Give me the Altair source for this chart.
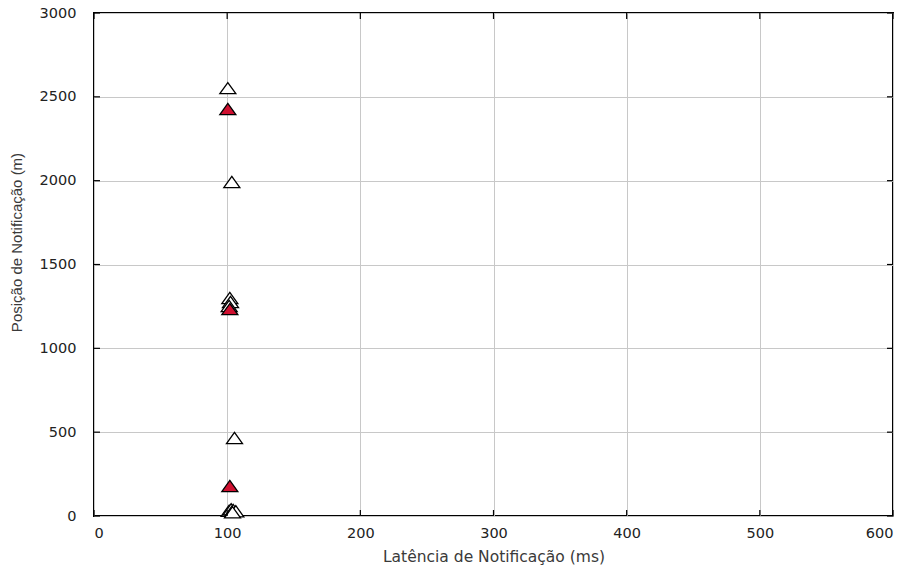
import altair as alt
import pandas as pd

# Notification latency (ms) vs. notification position (m)
open_latency = [100.5, 103.5, 102.0, 102.5, 101.5, 105.5, 101.5, 103.0, 104.5, 106.5, 104.0]
open_position = [2552, 1992, 1300, 1276, 1252, 465, 32, 40, 36, 28, 22]

red_latency = [100.5, 102.0, 102.0]
red_position = [2427, 1234, 179]

x_ticks = [0, 100, 200, 300, 400, 500, 600]
y_ticks = [0, 500, 1000, 1500, 2000, 2500, 3000]

open_df = pd.DataFrame({"lat": open_latency, "pos": open_position})
red_df = pd.DataFrame({"lat": red_latency, "pos": red_position})
xt_df = pd.DataFrame({"lat": x_ticks})
yt_df = pd.DataFrame({"pos": y_ticks})

W, H = 799, 503
TICK = 6
LABEL_FONT = "DejaVu Sans"
TITLE_FONT = "Liberation Sans"

# flattened open/filled triangle marker
TRI = "M0,-0.7L1,0.7L-1,0.7Z"

x_scale = alt.Scale(domain=[0, 600], nice=False)
y_scale = alt.Scale(domain=[0, 3000], nice=False)

x_enc = alt.X(
    "lat:Q",
    scale=x_scale,
    axis=alt.Axis(
        values=x_ticks,
        format="d",
        title="Latência de Notificação (ms)",
        titleFontSize=15.5,
        titleFont=LABEL_FONT,
        titleFontWeight="normal",
        titleColor="#3a3a3a",
        titlePadding=10,
        labelFontSize=14.5,
        labelFont=LABEL_FONT,
        labelColor="#222222",
        labelPadding=10,
        ticks=False,
        domain=False,
        grid=True,
        gridColor="#c8c8c8",
        gridWidth=1,
    ),
)
y_enc = alt.Y(
    "pos:Q",
    scale=y_scale,
    axis=alt.Axis(
        values=y_ticks,
        format="d",
        title="Posição de Notificação (m)",
        titleFontSize=15,
        titleFont=TITLE_FONT,
        titleFontWeight="normal",
        titleColor="#3a3a3a",
        titleX=-70,
        titleY=229,
        labelFontSize=14.5,
        labelFont=LABEL_FONT,
        labelColor="#222222",
        labelPadding=18,
        ticks=False,
        domain=False,
        grid=True,
        gridColor="#c8c8c8",
        gridWidth=1,
    ),
)

open_pts = alt.Chart(open_df).mark_point(
    shape=TRI, size=256, filled=True, fill="white",
    stroke="black", strokeWidth=1.3, opacity=1,
).encode(x=x_enc, y=y_enc)

red_pts = alt.Chart(red_df).mark_point(
    shape=TRI, size=256, filled=True, fill="#cf1030",
    stroke="black", strokeWidth=1.3, opacity=1,
).encode(x="lat:Q", y="pos:Q")

# inward tick marks, mirrored on all four sides
tick_style = dict(color="black", strokeWidth=1.2)
x_ticks_bottom = alt.Chart(xt_df).mark_rule(**tick_style).encode(
    x="lat:Q", y=alt.value(H), y2=alt.value(H - TICK)
)
x_ticks_top = alt.Chart(xt_df).mark_rule(**tick_style).encode(
    x="lat:Q", y=alt.value(0), y2=alt.value(TICK)
)
y_ticks_left = alt.Chart(yt_df).mark_rule(**tick_style).encode(
    y="pos:Q", x=alt.value(0), x2=alt.value(TICK)
)
y_ticks_right = alt.Chart(yt_df).mark_rule(**tick_style).encode(
    y="pos:Q", x=alt.value(W), x2=alt.value(W - TICK)
)

chart = (
    alt.layer(
        open_pts, red_pts,
        x_ticks_bottom, x_ticks_top, y_ticks_left, y_ticks_right,
    )
    .properties(
        width=W,
        height=H,
        autosize=alt.AutoSizeParams(type="none"),
        padding={"left": 94, "top": 13, "right": 22, "bottom": 58},
        background="white",
    )
    .configure_view(stroke="black", strokeWidth=2)
)

chart.save("out.html", embed_options={"renderer": "svg", "actions": False})
